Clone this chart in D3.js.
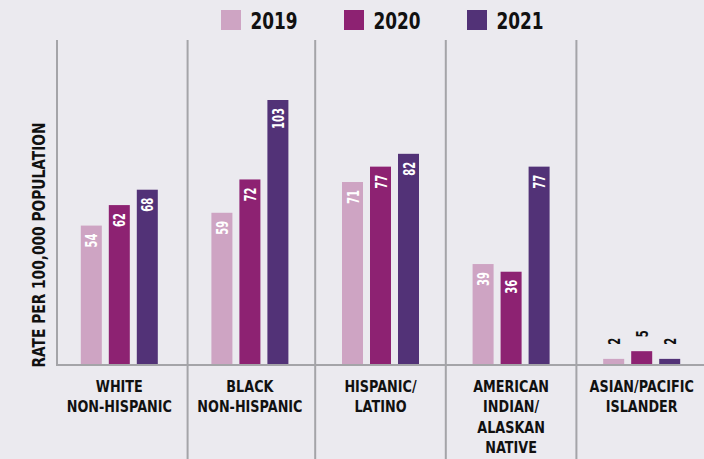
<!DOCTYPE html>
<html>
<head>
<meta charset="utf-8">
<script src="https://cdn.jsdelivr.net/npm/d3@7"></script>
<style>
	body { margin: 0; background: #ebeaef; }
	svg { display: block; }
	text { font-family: "DejaVu Sans", sans-serif; font-weight: bold; }
</style>
</head>
<body>
<svg id="chart" width="704" height="459"></svg>
<script>
// chart data
var categories = ["WHITE|NON-HISPANIC", "BLACK|NON-HISPANIC", "HISPANIC/|LATINO", "AMERICAN|INDIAN/|ALASKAN|NATIVE", "ASIAN/PACIFIC|ISLANDER"];
var years = ["2019", "2020", "2021"];
var values2019 = [54, 59, 71, 39, 2];
var values2020 = [62, 72, 77, 36, 5];
var values2021 = [68, 103, 82, 77, 2];
var colors = ["#cea4c3", "#8d2272", "#523277"];
var yLabel = "RATE PER 100,000 POPULATION";

var series = [values2019, values2020, values2021];
var data = categories.map(function(c, i) {
	return { category: c, values: years.map(function(y, j) { return { year: y, value: series[j][i], color: colors[j] }; }) };
});

var svg = d3.select("#chart");
var baseY = 364;

var x = d3.scaleBand()
	.domain(categories)
	.range([54, 707]);
var x1 = d3.scaleBand()
	.domain(years)
	.range([-38.5, 38.5])
	.paddingInner(0.25);
var y = d3.scaleLinear()
	.domain([0, 103])
	.range([baseY, 100]);

// group separators
svg.selectAll("line.sep")
	.data(categories.slice(1))
	.enter()
	.append("line")
		.attr("x1", function(d, i) { return x(d) + (i == 0 ? 3 : 0); })
		.attr("x2", function(d, i) { return x(d) + (i == 0 ? 3 : 0); })
		.attr("y1", 40)
		.attr("y2", 459)
		.attr("stroke", "#a4a4a8")
		.attr("stroke-width", 2);

// left axis
svg.append("line")
	.attr("x1", 57).attr("x2", 57).attr("y1", 40).attr("y2", baseY + 1)
	.attr("stroke", "#a4a4a8").attr("stroke-width", 2);

// bars
var groups = svg.selectAll("g.group")
	.data(data)
	.enter()
	.append("g")
		.attr("class", "group")
		.attr("transform", function(d) { return "translate(" + (x(d.category) + x.bandwidth() / 2) + ",0)"; });

groups.selectAll("rect")
	.data(function(d) { return d.values; })
	.enter()
	.append("rect")
		.attr("x", function(d) { return x1(d.year); })
		.attr("width", x1.bandwidth())
		.attr("y", function(d) { return y(d.value); })
		.attr("height", function(d) { return baseY - y(d.value); })
		.attr("fill", function(d) { return d.color; });

// value labels (white inside bar, black above small ones)
groups.selectAll("text.val")
	.data(function(d) { return d.values; })
	.enter()
	.append("text")
		.attr("class", "val")
		.attr("transform", function(d) {
			var cx = x1(d.year) + x1.bandwidth() / 2 + 6;
			var ty = d.value < 10 ? y(d.value) - 14 : y(d.value) + 8;
			return "translate(" + cx + "," + ty + ") rotate(-90) scale(0.61,1)";
		})
		.attr("text-anchor", function(d) { return d.value < 10 ? "start" : "end"; })
		.attr("fill", function(d) { return d.value < 10 ? "#111" : "#fff"; })
		.style("font-size", "16.5px")
		.text(function(d) { return d.value; });

// baseline
svg.append("line")
	.attr("x1", 56).attr("x2", 704).attr("y1", baseY + 1).attr("y2", baseY + 1)
	.attr("stroke", "#a4a4a8").attr("stroke-width", 2);

// category labels
groups.append("text")
	.attr("text-anchor", "middle")
	.attr("transform", "scale(0.8,1)")
	.attr("fill", "#111")
	.style("font-size", "16px")
	.selectAll("tspan")
	.data(function(d) { return d.category.split("|"); })
	.enter()
	.append("tspan")
		.attr("x", 0)
		.attr("y", function(d, i) { return 392 + i * 20.4; })
		.text(function(d) { return d; });

// y axis label
svg.append("text")
	.attr("transform", "translate(45,245) rotate(-90) scale(0.81,1)")
	.attr("text-anchor", "middle")
	.attr("fill", "#111")
	.style("font-size", "17px")
	.text(yLabel);

// legend
var legendX = [221, 344, 467];
var legend = svg.selectAll("g.legend")
	.data(years)
	.enter()
	.append("g")
		.attr("class", "legend")
		.attr("transform", function(d, i) { return "translate(" + legendX[i] + ",10)"; });
legend.append("rect")
	.attr("width", 20).attr("height", 20)
	.attr("fill", function(d, i) { return colors[i]; });
legend.append("text")
	.attr("transform", "translate(29.5,19.3) scale(0.72,1)")
	.attr("fill", "#111")
	.style("font-size", "23.5px")
	.text(function(d) { return d; });
</script>
</body>
</html>
